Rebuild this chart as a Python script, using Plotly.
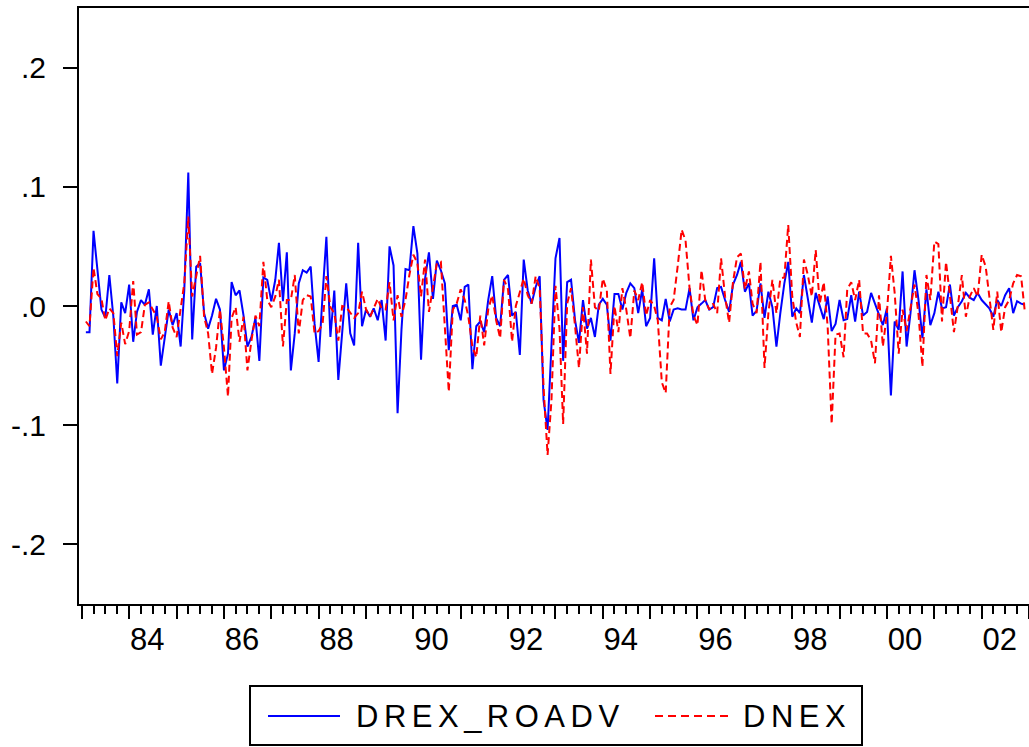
import pandas as pd
import plotly.graph_objects as go

# Monthly observations, 1983:02 - 2002:12
start_month = "1983-02-01"

drex_roadv = [
    # 1983 (Feb-Dec)
    -0.022, -0.022, 0.063, 0.030, -0.003, -0.010, 0.026, -0.009, -0.065, 0.003, -0.006,
    # 1984
    0.018, -0.030, -0.005, 0.005, 0.001, 0.014, -0.024, 0.000, -0.050, -0.027, -0.003, -0.016,
    # 1985
    -0.006, -0.034, 0.013, 0.112, -0.028, 0.033, 0.036, -0.006, -0.019, -0.008, 0.006, -0.003,
    # 1986
    -0.054, -0.040, 0.020, 0.009, 0.013, -0.008, -0.034, -0.026, -0.010, -0.046, 0.024, 0.022,
    # 1987
    0.004, 0.022, 0.053, 0.004, 0.045, -0.054, -0.023, 0.019, 0.030, 0.028, 0.033, -0.015,
    # 1988
    -0.047, 0.010, 0.058, -0.026, 0.013, -0.062, -0.020, 0.019, -0.023, -0.033, 0.053, -0.017,
    # 1989
    -0.003, -0.009, -0.002, -0.012, 0.005, -0.029, 0.050, 0.034, -0.090, -0.020, 0.031, 0.030,
    # 1990
    0.067, 0.044, -0.045, 0.023, 0.045, 0.006, 0.038, 0.030, 0.019, -0.037, 0.000, 0.001,
    # 1991
    -0.012, 0.016, 0.018, -0.053, -0.017, -0.013, -0.022, 0.005, 0.025, -0.010, -0.017, 0.022,
    # 1992
    0.026, -0.008, -0.005, -0.041, 0.039, 0.013, 0.002, 0.016, 0.025, -0.079, -0.104, -0.037,
    # 1993
    0.040, 0.057, -0.046, 0.020, 0.022, -0.012, -0.031, 0.005, -0.019, -0.010, -0.026, 0.001,
    # 1994
    0.006, 0.001, -0.029, 0.010, 0.010, -0.003, 0.011, 0.019, 0.015, -0.006, 0.014, -0.017,
    # 1995
    -0.010, 0.040, -0.010, -0.012, 0.006, -0.013, -0.003, -0.002, -0.003, -0.003, 0.015, -0.012,
    # 1996
    -0.001, 0.002, 0.005, -0.003, -0.001, 0.015, 0.016, 0.005, -0.005, 0.018, 0.026, 0.037,
    # 1997
    0.012, 0.019, -0.008, -0.004, 0.019, -0.010, 0.012, -0.001, -0.034, -0.006, 0.019, 0.037,
    # 1998
    -0.009, -0.002, -0.006, 0.026, 0.005, -0.014, 0.011, -0.001, -0.011, 0.008, -0.021, -0.015,
    # 1999
    0.005, -0.012, -0.011, 0.009, -0.013, 0.012, -0.008, -0.005, 0.011, 0.002, -0.008, -0.016,
    # 2000
    -0.002, -0.075, -0.013, -0.020, 0.029, -0.034, -0.006, 0.030, 0.005, -0.027, 0.014, -0.016,
    # 2001
    -0.006, 0.012, -0.002, -0.001, 0.018, -0.008, -0.001, 0.004, 0.011, 0.007, 0.005, 0.011,
    # 2002
    0.005, 0.001, -0.002, -0.009, 0.005, 0.000, 0.009, 0.015, -0.006, 0.004, 0.002, 0.001,
]

dnex = [
    # 1983 (Feb-Dec)
    -0.013, -0.017, 0.032, 0.010, 0.006, -0.012, -0.002, -0.006, -0.042, -0.014, -0.032,
    # 1984
    -0.021, 0.021, -0.024, -0.022, 0.001, 0.003, -0.003, -0.009, -0.028, -0.022, 0.004, -0.018,
    # 1985
    -0.026, 0.000, 0.019, 0.075, 0.008, 0.025, 0.042, -0.009, -0.023, -0.057, -0.035, -0.003,
    # 1986
    -0.035, -0.076, -0.010, -0.001, -0.030, -0.009, -0.054, -0.029, -0.008, -0.017, 0.037, 0.005,
    # 1987
    -0.001, 0.008, 0.022, -0.034, 0.005, 0.005, 0.026, -0.023, 0.005, 0.009, 0.008, -0.023,
    # 1988
    -0.021, -0.015, 0.025, -0.001, -0.006, -0.029, 0.000, -0.001, -0.006, -0.010, -0.006, 0.012,
    # 1989
    -0.003, -0.009, -0.002, 0.006, -0.002, -0.003, 0.020, -0.012, 0.009, -0.009, 0.005, 0.026,
    # 1990
    0.043, 0.036, 0.008, 0.039, -0.005, 0.016, 0.036, 0.037, -0.015, -0.072, -0.003, 0.002,
    # 1991
    0.014, 0.005, -0.009, -0.034, -0.043, -0.008, -0.033, -0.003, 0.009, -0.012, -0.027, 0.022,
    # 1992
    0.014, -0.030, 0.000, 0.011, 0.023, 0.009, 0.002, 0.025, 0.015, -0.068, -0.125, -0.079,
    # 1993
    0.017, -0.019, -0.099, 0.002, 0.015, -0.017, -0.052, -0.001, -0.040, 0.039, -0.001, -0.004,
    # 1994
    0.023, 0.013, -0.057, 0.000, -0.022, 0.015, -0.003, -0.027, 0.013, 0.005, 0.020, -0.008,
    # 1995
    0.005, 0.000, -0.012, -0.064, -0.073, -0.001, 0.005, 0.033, 0.064, 0.055, 0.015, -0.008,
    # 1996
    -0.016, 0.030, 0.005, -0.003, 0.002, -0.006, 0.040, 0.008, -0.014, 0.020, 0.041, 0.044,
    # 1997
    0.014, 0.029, 0.002, -0.006, 0.037, -0.052, -0.006, 0.022, -0.006, 0.023, 0.024, 0.068,
    # 1998
    0.008, -0.014, -0.026, 0.039, 0.026, 0.008, 0.047, 0.002, 0.020, -0.017, -0.099, -0.024,
    # 1999
    -0.023, -0.043, 0.014, 0.020, 0.005, 0.022, -0.023, -0.023, -0.029, -0.048, 0.009, -0.034,
    # 2000
    -0.006, 0.042, 0.011, -0.040, -0.003, -0.021, -0.003, 0.018, -0.007, -0.051, 0.026, 0.005,
    # 2001
    0.054, 0.052, -0.013, 0.037, 0.009, -0.022, 0.000, 0.026, -0.009, 0.008, 0.015, 0.008,
    # 2002
    0.043, 0.033, 0.008, -0.020, 0.012, -0.022, -0.001, 0.005, 0.019, 0.026, 0.025, -0.006,
]

year_ticks = [str(y) + "-01-01" for y in range(1983, 2004)]
year_labels = ["" if y % 2 else "%02d" % (y % 100) for y in range(1983, 2004)]
y_tickvals = [-0.2, -0.1, 0.0, 0.1, 0.2]
y_ticktext = ["-.2", "-.1", ".0", ".1", ".2"]
series_names = ["DREX_ROADV", "DNEX"]

dates = pd.date_range(start_month, periods=len(drex_roadv), freq="MS")

FONT = "Liberation Sans, Arial, Helvetica, sans-serif"
W, H = 1029, 747
L, R, T, B = 79, 0, 8, 143
PW, PH = W - L - R, H - T - B


def xp(px):
    return (px - L) / PW


def yp(py):
    return (H - B - py) / PH


fig = go.Figure()
fig.add_trace(go.Scatter(x=dates, y=drex_roadv, mode="lines", name=series_names[0],
                         line=dict(color="#0000FF", width=2), showlegend=False))
fig.add_trace(go.Scatter(x=dates, y=dnex, mode="lines", name=series_names[1],
                         line=dict(color="#FF0000", width=2, dash="7px,4px"), showlegend=False))

fig.update_layout(
    width=W, height=H,
    margin=dict(l=L, r=R, t=T, b=B, pad=0),
    paper_bgcolor="white", plot_bgcolor="white",
    font=dict(family=FONT, size=30, color="black"),
    xaxis=dict(
        type="date",
        range=["1982-12-10", "2003-01-01"],
        showgrid=False, zeroline=False,
        showline=True, linecolor="black", linewidth=2, mirror=True,
        tickmode="array", tickvals=year_ticks, ticktext=year_labels,
        ticks="outside", ticklen=13, tickwidth=1.5, tickcolor="black",
        ticklabelshift=18, ticklabelstandoff=-6,
        minor=dict(dtick="M3", tick0="1983-01-01", ticks="outside", ticklen=8,
                   tickwidth=1.5, tickcolor="black", showgrid=False),
        tickfont=dict(family=FONT, size=31, color="black"),
    ),
    yaxis=dict(
        range=[-0.25, 0.25],
        showgrid=False, zeroline=False,
        showline=True, linecolor="black", linewidth=2, mirror=False,
        tickmode="array", tickvals=y_tickvals, ticktext=y_ticktext,
        ticks="outside", ticklen=14, tickwidth=1.5, tickcolor="black",
        ticklabelstandoff=11,
        tickfont=dict(family=FONT, size=30, color="black"),
    ),
)

# Legend box drawn below the plot
shapes = [
    dict(type="rect", xref="paper", yref="paper",
         x0=xp(250), x1=xp(862), y0=yp(745), y1=yp(686),
         line=dict(color="black", width=2), fillcolor="white"),
    dict(type="line", xref="paper", yref="paper",
         x0=xp(268), x1=xp(340), y0=yp(716), y1=yp(716),
         line=dict(color="#0000FF", width=2)),
    dict(type="line", xref="paper", yref="paper",
         x0=xp(655), x1=xp(728), y0=yp(716), y1=yp(716),
         line=dict(color="#FF0000", width=2, dash="8px,5px")),
]
annotations = [
    dict(xref="paper", yref="paper", x=xp(354), y=yp(716), xanchor="left", yanchor="middle",
         text='<span style="letter-spacing:5.5px">' + series_names[0] + "</span>",
         showarrow=False, font=dict(family=FONT, size=31, color="black")),
    dict(xref="paper", yref="paper", x=xp(741), y=yp(716), xanchor="left", yanchor="middle",
         text='<span style="letter-spacing:5.5px">' + series_names[1] + "</span>",
         showarrow=False, font=dict(family=FONT, size=31, color="black")),
]
fig.update_layout(shapes=shapes, annotations=annotations)

fig.write_html("out.html")
